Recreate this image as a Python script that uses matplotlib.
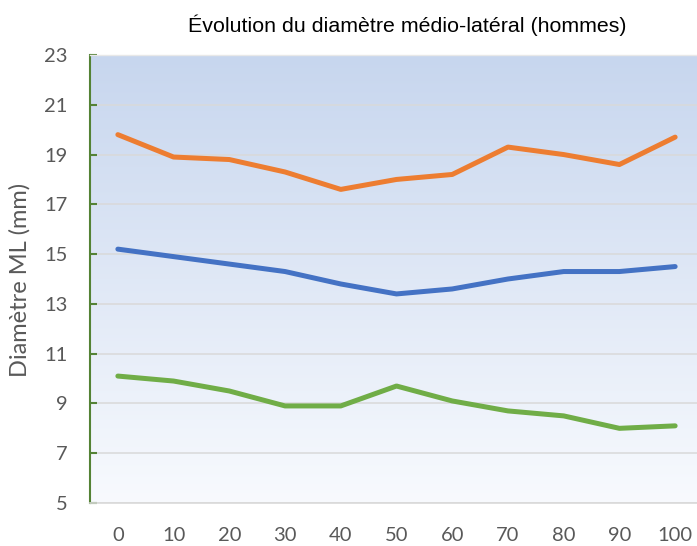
import matplotlib.pyplot as plt
import numpy as np

# valeurs
positions = [0, 10, 20, 30, 40, 50, 60, 70, 80, 90, 100]
orange_vals = [19.8, 18.9, 18.8, 18.3, 17.6, 18.0, 18.2, 19.3, 19.0, 18.6, 19.7]
blue_vals = [15.2, 14.9, 14.6, 14.3, 13.8, 13.4, 13.6, 14.0, 14.3, 14.3, 14.5]
green_vals = [10.1, 9.9, 9.5, 8.9, 8.9, 9.7, 9.1, 8.7, 8.5, 8.0, 8.1]
y_ticks = [5, 7, 9, 11, 13, 15, 17, 19, 21, 23]

plt.rcParams["font.family"] = ["Lato", "DejaVu Sans"]

fig = plt.figure(figsize=(6.97, 5.46), dpi=100)
fig.patch.set_facecolor("#FFFFFF")
ax = fig.add_axes([90 / 697, 43 / 546, 613 / 697, 448 / 546])
ax.set_facecolor("none")

# fond en dégradé (bleu clair en haut, presque blanc en bas)
top = np.array([199, 214, 238]) / 255
bottom = np.array([248, 250, 254]) / 255
t = np.linspace(0, 1, 256)[:, None]
grad = (top * (1 - t) + bottom * t)[:, None, :]
ax.imshow(grad, extent=[0, 1, 0, 1], transform=ax.transAxes, aspect="auto", zorder=0)

for vals, color in ((orange_vals, "#ED7D31"), (blue_vals, "#4472C4"), (green_vals, "#70AD47")):
    ax.plot(positions, vals, color=color, linewidth=3.6, solid_capstyle="round", zorder=3)

ax.set_xlim(-5, 105)
ax.set_ylim(5, 23)
ax.set_xticks(positions)
ax.set_yticks(y_ticks)
ax.grid(axis="y", color="#D9D9D9", linewidth=1.1, zorder=1)
ax.set_axisbelow(True)

ax.spines["right"].set_visible(False)
ax.spines["top"].set_color("#E8E8E8")
ax.spines["top"].set_linewidth(1.0)
ax.spines["bottom"].set_color("#D9D9D9")
ax.spines["bottom"].set_linewidth(1.2)
ax.spines["left"].set_color("#548235")
ax.spines["left"].set_linewidth(1.5)

ax.tick_params(axis="y", direction="in", length=5, width=1.5, color="#548235",
               labelsize=14.5, labelcolor="#595959", pad=16)
ax.tick_params(axis="x", length=0, labelsize=14.5, labelcolor="#595959", pad=17)

fig.text(407 / 697, 1 - 25 / 546, "Évolution du diamètre médio-latéral (hommes)",
         ha="center", va="center", fontsize=15.4, color="#000000",
         family=["Liberation Sans", "DejaVu Sans"])
fig.text(20 / 697, 1 - 280 / 546, "Diamètre ML (mm)", rotation=90,
         ha="center", va="center", fontsize=17, color="#595959")

fig.savefig("out.png", dpi=100)
